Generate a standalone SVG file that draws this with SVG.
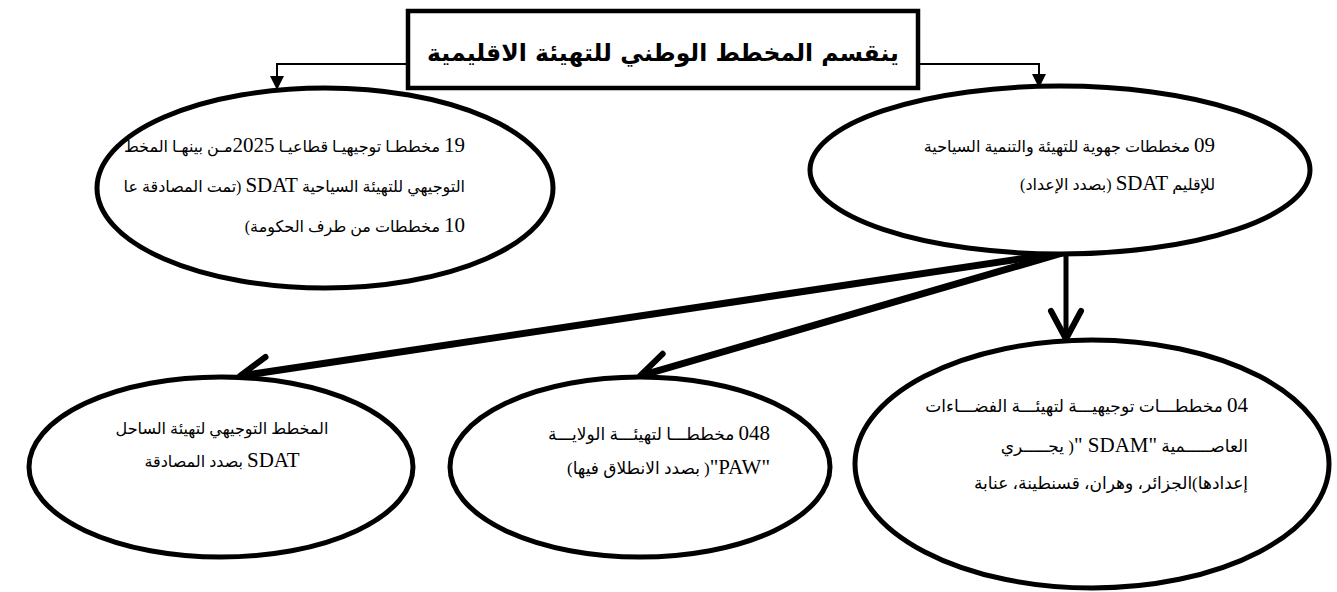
<svg xmlns="http://www.w3.org/2000/svg" width="1337" height="592" viewBox="0 0 1337 592">
<style>
  .bg{fill:#fff}
  .node{fill:#fff;stroke:#000;stroke-width:5}
  .box{fill:#fff;stroke:#000;stroke-width:4.5}
  .thin{fill:none;stroke:#000;stroke-width:2}
  .thick{fill:none;stroke:#000;stroke-width:7}
  .mid{fill:none;stroke:#000;stroke-width:5}
  text{font-family:'Liberation Serif','DejaVu Sans',serif;font-size:16px;fill:#000}
  .big{font-size:17px}
  .rtl{direction:rtl;unicode-bidi:embed}
  .lat{font-family:'Liberation Serif',serif;font-size:21px}
  .title{font-family:'DejaVu Sans','Liberation Sans',sans-serif;font-weight:bold;font-size:23.5px}
</style>
<defs>
  <marker id="tri" viewBox="0 -7 14 14" refX="0" refY="0" markerWidth="14" markerHeight="14" orient="auto" markerUnits="userSpaceOnUse">
    <path d="M0,-7 L14,0 L0,7 Z" fill="#000"/>
  </marker>
  <marker id="chev" viewBox="-36 -20 40 40" refX="-4" refY="0" markerWidth="40" markerHeight="40" orient="auto" markerUnits="userSpaceOnUse">
    <path d="M-28,-15 L0,0 L-28,15" fill="none" stroke="#000" stroke-width="6" stroke-linecap="round" stroke-linejoin="round"/>
  </marker>
</defs>
<rect class="bg" x="0" y="0" width="1337" height="592"/>

<g id="connectors">
  <path class="thin" d="M408,64 H277 V76" marker-end="url(#tri)"/>
  <path class="thin" d="M918,64 H1039 V74" marker-end="url(#tri)"/>
  <path class="thick" d="M1066,252 L244,375.4" marker-end="url(#chev)"/>
  <path class="thick" d="M1066,252 L643.8,374.9" marker-end="url(#chev)"/>
  <path class="mid" d="M1066,252 V335" marker-end="url(#chev)"/>
</g>

<g id="title">
  <rect class="box" x="408" y="11" width="510" height="77"/>
  <text class="title rtl" x="663" y="61" text-anchor="middle">ينقسم المخطط الوطني للتهيئة الاقليمية</text>
</g>

<g id="node-sectoral">
  <ellipse class="node" cx="325" cy="188" rx="228" ry="100"/>
  <text class="rtl" x="465" y="152" text-anchor="start"><tspan class="lat">19</tspan> مخططـا توجيهيـا قطاعيـا <tspan class="lat">2025</tspan>مـن بينهـا المخط</text>
  <text class="rtl" x="465" y="192" text-anchor="start">التوجيهي للتهيئة السياحية <tspan class="lat">SDAT</tspan> (تمت المصادقة عا</text>
  <text class="rtl" x="465" y="232" text-anchor="start"><tspan class="lat">10</tspan> مخططات من طرف الحكومة)</text>
</g>

<g id="node-regional">
  <ellipse class="node" cx="1060" cy="170" rx="250" ry="84"/>
  <text class="rtl" x="1215" y="152" text-anchor="start"><tspan class="lat">09</tspan> مخططات جهوية للتهيئة والتنمية السياحية</text>
  <text class="rtl" x="1215" y="190" text-anchor="start">للإقليم <tspan class="lat">SDAT</tspan> (بصدد الإعداد)</text>
</g>

<g id="node-coast">
  <ellipse class="node" cx="221" cy="467" rx="192" ry="90"/>
  <text class="rtl" x="222" y="434" text-anchor="middle">المخطط التوجيهي لتهيئة الساحل</text>
  <text class="rtl" x="222" y="467" text-anchor="middle"><tspan class="lat">SDAT</tspan> بصدد المصادقة</text>
</g>

<g id="node-wilaya">
  <ellipse class="node" cx="640" cy="467" rx="190" ry="90"/>
  <text class="rtl big" x="770" y="440" text-anchor="start"><tspan class="lat">048</tspan> مخططـــا لتهيئـــة الولايـــة</text>
  <text class="rtl big" x="770" y="474" text-anchor="start"><tspan class="lat">"PAW"</tspan>( بصدد الانطلاق فيها)</text>
</g>

<g id="node-metro">
  <ellipse class="node" cx="1092" cy="464" rx="237" ry="124"/>
  <text class="rtl big" x="1248" y="412" text-anchor="start"><tspan class="lat">04</tspan> مخططـــات توجيهيـــة لتهيئـــة الفضـــاءات</text>
  <text class="rtl big" x="1248" y="452" text-anchor="start">العاصـــــمية <tspan class="lat">"SDAM "</tspan>( يجـــــري</text>
  <text class="rtl big" x="1248" y="489" text-anchor="start">إعدادها)الجزائر، وهران، قسنطينة، عنابة</text>
</g>
</svg>
